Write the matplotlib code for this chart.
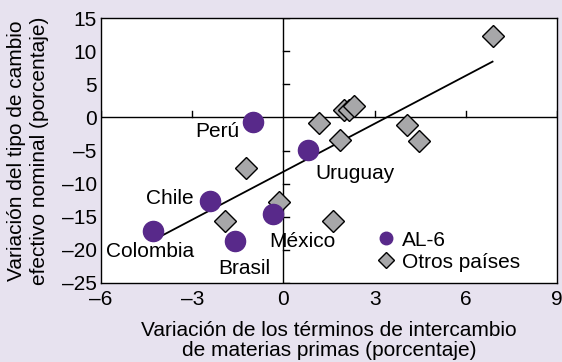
import numpy as np
import matplotlib
matplotlib.use('Agg')
import matplotlib.pyplot as plt
from matplotlib.lines import Line2D

plt.rcParams['font.family'] = ['Liberation Sans', 'DejaVu Sans']

# AL-6 countries
al6_names = ['Perú', 'Uruguay', 'Chile', 'Colombia', 'Brasil', 'México']
al6_x = [-1.0, 0.8, -2.4, -4.3, -1.6, -0.33]
al6_y = [-0.7, -4.9, -12.6, -17.2, -18.7, -14.6]

# other countries
otros_x = [-1.23, -1.93, -0.15, 1.63, 1.16, 1.85, 1.98, 2.15, 2.31, 4.05, 4.45, 6.88]
otros_y = [-7.7, -15.7, -12.7, -15.7, -0.9, -3.4, 1.1, 1.1, 1.7, -1.2, -3.5, 12.3]

# regression line
trend_slope = 2.415
trend_intercept = -8.2
trend_x = [-4.3, 6.88]

xticks = [-6, -3, 0, 3, 6, 9]
yticks = [-25, -20, -15, -10, -5, 0, 5, 10, 15]

bg = '#e7e2ef'
purple = '#58298a'
gray = '#a7a7a9'
fs = 15

fig = plt.figure(figsize=(5.62, 3.62), dpi=100, facecolor=bg)
ax = fig.add_axes([101/562, 1 - 283/362, 456/562, 265/362])
ax.set_facecolor('white')

ax.set_xlim(-6, 9)
ax.set_ylim(-25, 15)
ax.set_xticks(xticks)
ax.set_yticks(yticks)
ax.set_xticklabels([str(t).replace('-', '\u2013') for t in xticks])
ax.set_yticklabels([str(t).replace('-', '\u2013') for t in yticks])
ax.tick_params(length=0, labelsize=fs)
ax.tick_params(axis='x', pad=5)
ax.tick_params(axis='y', pad=3)
for s in ax.spines.values():
    s.set_linewidth(1.0)

# zero lines with their own ticks
ax.axhline(0, color='black', lw=1.0, zorder=1)
ax.axvline(0, color='black', lw=1.0, zorder=1)
for t in xticks:
    if t != 0:
        ax.plot([t, t], [0, 0.9], color='black', lw=1.0, zorder=1)
for t in yticks:
    if t != 0:
        ax.plot([0, 0.2], [t, t], color='black', lw=1.0, zorder=1)

tx = np.array(trend_x)
ax.plot(tx, trend_slope * tx + trend_intercept, color='black', lw=1.3, zorder=2)

ax.plot(otros_x, otros_y, 'D', color=gray, mec='black', mew=1.0, ms=11, zorder=3)
ax.plot(al6_x, al6_y, 'o', color=purple, mec=purple, ms=14.5, zorder=4)

# label offsets relative to each point (dx, dy, ha)
offsets = {
    'Perú': (-0.45, -1.5, 'right'),
    'Uruguay': (0.25, -3.5, 'left'),
    'Chile': (-0.56, 0.3, 'right'),
    'Colombia': (-1.52, -3.1, 'left'),
    'Brasil': (-0.54, -4.1, 'left'),
    'México': (-0.12, -4.2, 'left'),
}
for n, x, y in zip(al6_names, al6_x, al6_y):
    dx, dy, ha = offsets[n]
    ax.text(x + dx, y + dy, n, ha=ha, va='center', fontsize=fs)

handles = [
    Line2D([], [], ls='none', marker='o', color=purple, mec=purple, ms=9),
    Line2D([], [], ls='none', marker='D', color=gray, mec='black', mew=1.0, ms=8),
]
ax.legend(handles, ['AL-6', 'Otros países'], loc='upper left',
          bbox_to_anchor=(0.603, 0.198), frameon=False, fontsize=fs,
          handletextpad=0.25, labelspacing=0.15, borderpad=0, borderaxespad=0,
          handlelength=1.0)

ax.set_xlabel('Variación de los términos de intercambio\nde materias primas (porcentaje)',
              fontsize=fs, linespacing=1.05, labelpad=9)
ax.set_ylabel('Variación del tipo de cambio\nefectivo nominal (porcentaje)',
              fontsize=fs, linespacing=1.3, labelpad=9)

fig.savefig('out.png', dpi=100, facecolor=bg)
